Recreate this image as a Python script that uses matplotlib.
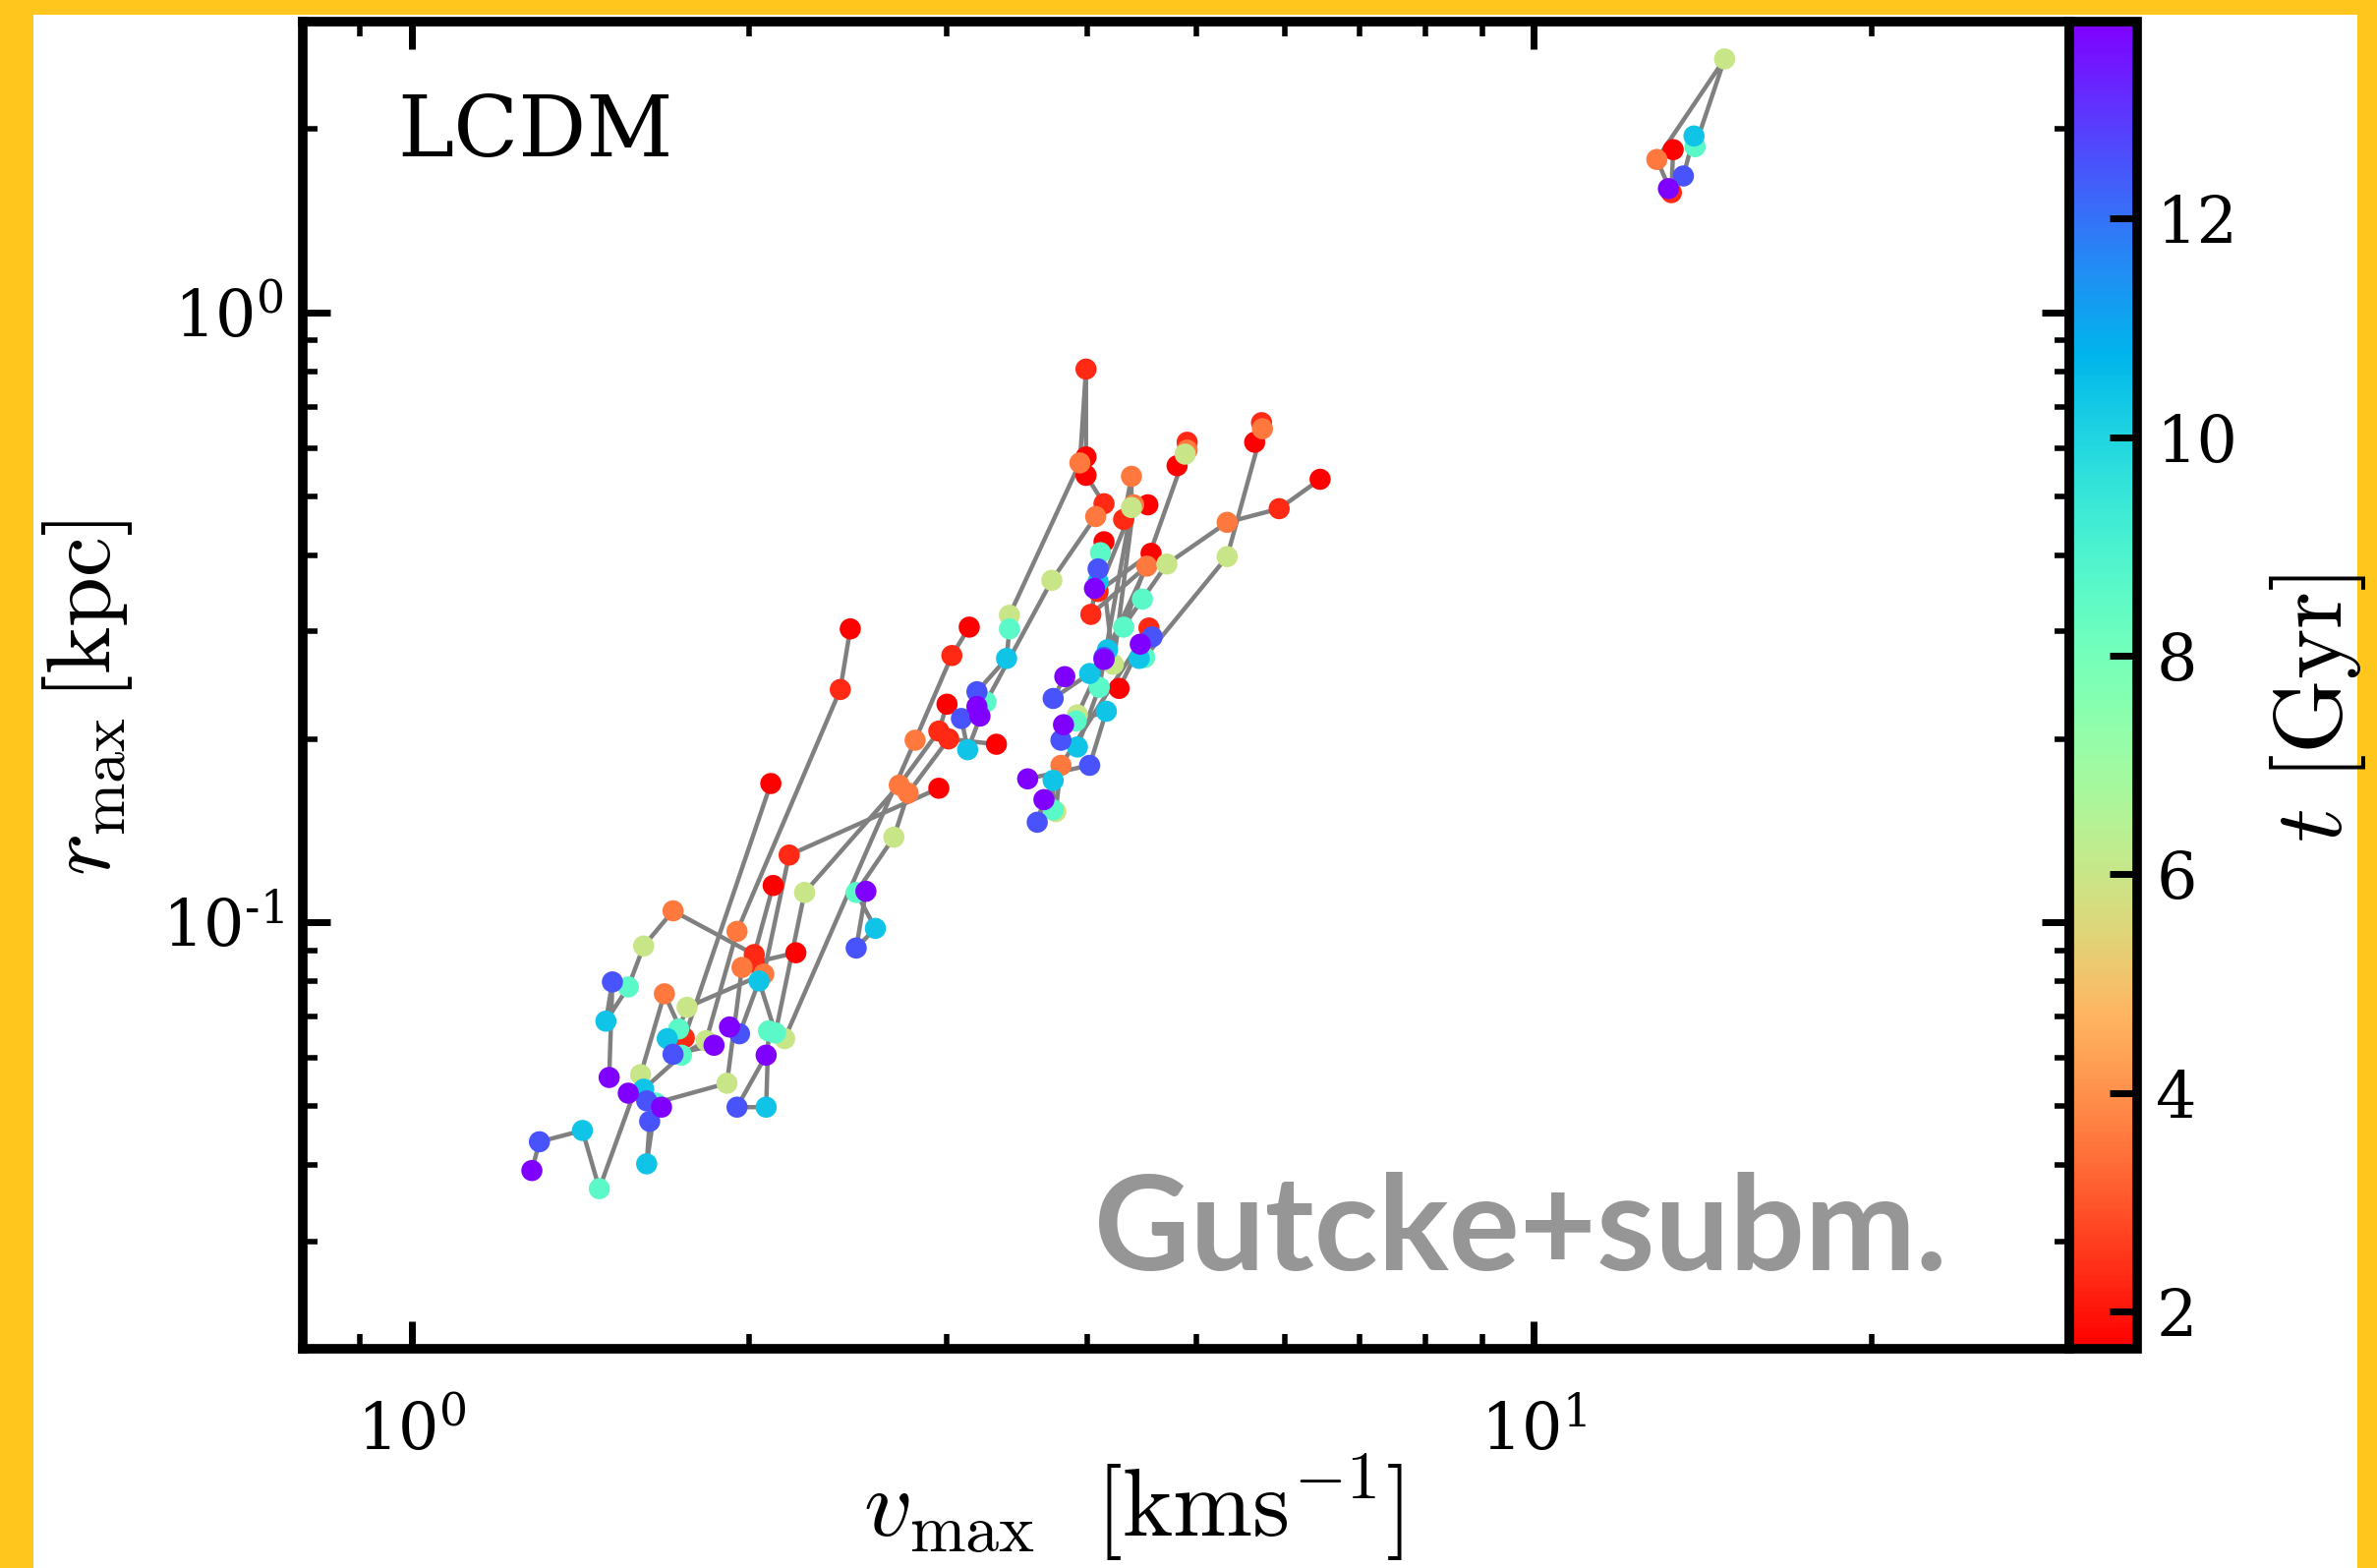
import numpy as np
import matplotlib
matplotlib.use("Agg")
import matplotlib.pyplot as plt
from matplotlib.colors import Normalize
from matplotlib.patches import Rectangle
from matplotlib.ticker import FuncFormatter

plt.rcParams['font.family'] = 'DejaVu Serif'
plt.rcParams['mathtext.fontset'] = 'cm'
plt.rcParams['axes.unicode_minus'] = False

# snapshot times [Gyr]
t_snap = [1.66, 2.3, 3.6, 6.0, 8.6, 10.4, 12.5, 13.8]

# v_max [km/s] of each halo at the snapshot times
vmax_tracks = [
    [13.31, 13.26, 12.87, 14.79, 13.92, 13.89, 13.59, 13.18],
    [6.45, 5.93, 5.33, 4.71, 4.48, 4.17, 4.14, 4.14],
    [5.64, 5.72, 5.73, 5.33, 4.50, 4.45, 4.57, 4.46],
    [3.99, 3.99, 3.94, 3.41, 3.41, 3.39, 3.19, 3.19],
    [3.99, 4.14, 4.07, 3.72, 3.25, 3.13, 3.09, 3.21],
    [4.81, 4.91, 4.91, 4.89, 4.31, 4.02, 3.73, 3.82],
    [4.53, 4.31, 4.38, 4.38, 4.10, 3.92, 3.79, 3.81],
    [4.14, 4.03, 4.52, 3.92, 3.91, 4.16, 4.02, 3.54],
    [4.27, 4.54, 3.79, 3.75, 3.73, 3.73, 3.61, 3.66],
    [4.56, 4.09, 4.40, 4.22, 4.11, 4.09, 4.09, 4.06],
    [3.14, 3.03, 2.81, 2.15, 2.08, 2.07, 1.95, 2.07],
    [3.00, 2.95, 2.72, 2.24, 2.11, 2.04, 1.96, 1.92],
    [3.32, 3.01, 2.77, 2.69, 2.49, 2.59, 2.49, 2.54],
    [2.46, 2.41, 1.95, 1.83, 1.74, 1.61, 1.62, 1.56],
    [2.09, 1.75, 1.68, 1.60, 1.47, 1.42, 1.30, 1.28],
    [2.95, 2.17, 2.06, 1.76, 1.73, 1.69, 1.71, 1.86],
    [2.20, 2.02, 1.97, 1.91, 1.65, 1.62, 1.63, 1.67],
    [2.10, 2.02, 1.71, 1.61, 1.56, 1.49, 1.51, 1.50],
]

# r_max [kpc] of each halo at the snapshot times
rmax_tracks = [
    [1.850, 1.573, 1.783, 2.606, 1.871, 1.948, 1.675, 1.597],
    [0.533, 0.477, 0.453, 0.387, 0.339, 0.280, 0.272, 0.270],
    [0.613, 0.660, 0.645, 0.398, 0.272, 0.271, 0.294, 0.286],
    [0.580, 0.808, 0.567, 0.319, 0.303, 0.271, 0.239, 0.226],
    [0.541, 0.486, 0.463, 0.364, 0.230, 0.192, 0.216, 0.218],
    [0.561, 0.613, 0.595, 0.586, 0.305, 0.256, 0.233, 0.253],
    [0.484, 0.458, 0.539, 0.479, 0.243, 0.194, 0.199, 0.211],
    [0.421, 0.320, 0.384, 0.219, 0.214, 0.222, 0.181, 0.172],
    [0.242, 0.304, 0.181, 0.152, 0.153, 0.171, 0.146, 0.159],
    [0.403, 0.349, 0.484, 0.265, 0.404, 0.362, 0.380, 0.353],
    [0.305, 0.274, 0.199, 0.0645, 0.0664, 0.0498, 0.0498, 0.0606],
    [0.228, 0.206, 0.168, 0.112, 0.0659, 0.0802, 0.0657, 0.0674],
    [0.196, 0.200, 0.163, 0.138, 0.112, 0.0978, 0.0908, 0.1125],
    [0.303, 0.241, 0.0967, 0.0640, 0.0606, 0.0533, 0.0510, 0.0525],
    [0.169, 0.0647, 0.0764, 0.0563, 0.0366, 0.0456, 0.0437, 0.0392],
    [0.166, 0.129, 0.0823, 0.0726, 0.0669, 0.0645, 0.0608, 0.0629],
    [0.0892, 0.0860, 0.0844, 0.0545, 0.0506, 0.0402, 0.0472, 0.0498],
    [0.115, 0.0886, 0.1045, 0.0915, 0.0784, 0.0689, 0.0799, 0.0557],
]


def decade_label(val, pos):
    # 10^n with a plain hyphen for negative exponents
    n = int(round(np.log10(val)))
    exp = ('\u2010%d' % -n) if n < 0 else '%d' % n
    return r'$\mathdefault{10^{%s}}$' % exp


W, H = 2418, 1595
fig = plt.figure(figsize=(W / 100, H / 100), dpi=100, facecolor='#ffc61e')

# white panel inside the yellow frame
fig.patches.append(Rectangle((34 / W, 0), (2398 - 34) / W, 1 - 15 / H,
                             transform=fig.transFigure, facecolor='white',
                             edgecolor='none', zorder=-1))

ax = fig.add_axes([308 / W, 1 - 1372 / H, (2105 - 308) / W, (1372 - 22) / H])
cax = fig.add_axes([2105 / W, 1 - 1372 / H, (2174 - 2105) / W, (1372 - 22) / H])

norm = Normalize(vmin=min(t_snap), vmax=max(t_snap))

# evolutionary tracks
for v, r in zip(vmax_tracks, rmax_tracks):
    ax.plot(v, r, color='gray', lw=3.2, zorder=1)

# points, later snapshots on top
v_all = np.array(vmax_tracks).T.ravel()
r_all = np.array(rmax_tracks).T.ravel()
t_all = np.repeat(t_snap, len(vmax_tracks))
sc = ax.scatter(v_all, r_all, c=t_all, cmap='rainbow_r', norm=norm,
                s=240, edgecolors='none', zorder=2)

ax.set_xscale('log')
ax.set_yscale('log')
ax.set_xlim(0.8, 30)
ax.set_ylim(0.02, 3)
ax.xaxis.set_major_formatter(FuncFormatter(decade_label))
ax.yaxis.set_major_formatter(FuncFormatter(decade_label))

for sp in ax.spines.values():
    sp.set_linewidth(7)
ax.tick_params(which='both', direction='in', top=True, right=True)
ax.tick_params(axis='x', which='major', length=20, width=5, labelsize=47, pad=38)
ax.tick_params(axis='y', which='major', length=20, width=5, labelsize=47, pad=14)
ax.tick_params(which='minor', length=11, width=4)

ax.set_xlabel(r'$v_{\rm max}\ \ [\rm kms^{-1}]$', fontsize=70, labelpad=-9,
              x=0.47)
ax.set_ylabel(r'$r_{\rm max}\,[\rm kpc]$', fontsize=66, labelpad=20, y=0.49)

ax.text(0.0534, 0.8985, 'LCDM', transform=ax.transAxes, fontsize=62,
        va='baseline')
ax.text(0.931, 0.0593, 'Gutcke+subm.', transform=ax.transAxes, ha='right',
        va='baseline', fontsize=97, color='#969696', family='Lato',
        weight='bold')

cb = fig.colorbar(sc, cax=cax)
cb.set_ticks([2, 4, 6, 8, 10, 12])
cb.ax.minorticks_off()
cb.outline.set_linewidth(7)
cb.ax.tick_params(direction='in', length=20, width=5, labelsize=47, pad=14)
cb.set_label(r'$t\ [\rm Gyr]$', fontsize=70, labelpad=22, y=0.483)

fig.savefig('out.png', dpi=100, facecolor=fig.get_facecolor())
